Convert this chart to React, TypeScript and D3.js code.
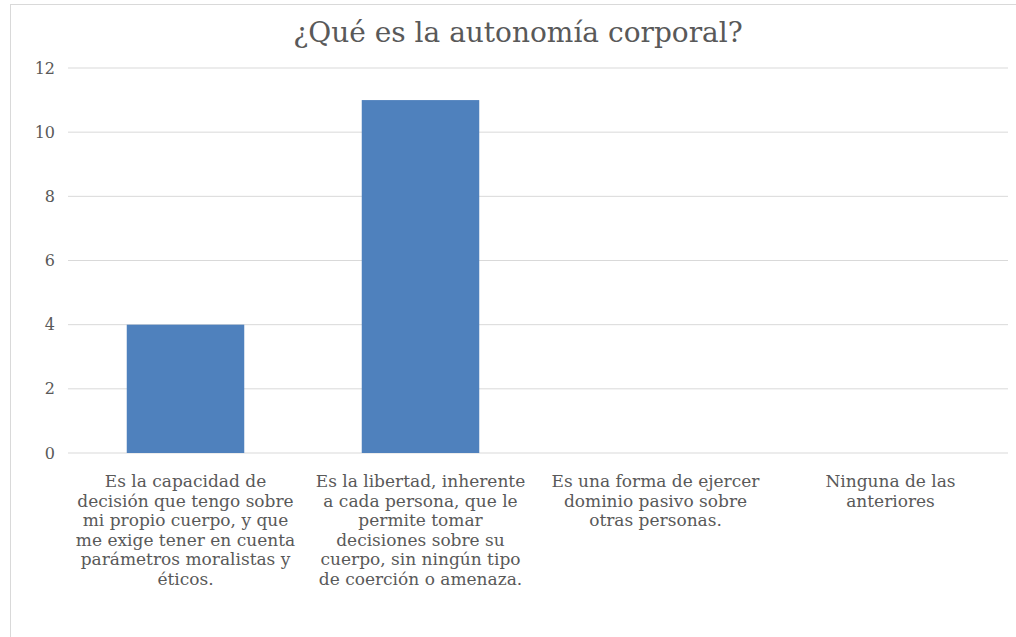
import * as d3 from "d3"

const categories = [
  "Es la capacidad de decisión que tengo sobre mi propio cuerpo, y que me exige tener en cuenta parámetros moralistas y éticos.",
  "Es la libertad, inherente a cada persona, que le permite tomar decisiones sobre su cuerpo, sin ningún tipo de coerción o amenaza.",
  "Es una forma de ejercer dominio pasivo sobre otras personas.",
  "Ninguna de las anteriores",
]
// wrapped as in the original
const categoryLines = [
  ["Es la capacidad de", "decisión que tengo sobre", "mi propio cuerpo, y que", "me exige tener en cuenta", "parámetros moralistas y", "éticos."],
  ["Es la libertad, inherente", "a cada persona, que le", "permite tomar", "decisiones sobre su", "cuerpo, sin ningún tipo", "de coerción o amenaza."],
  ["Es una forma de ejercer", "dominio pasivo sobre", "otras personas."],
  ["Ninguna de las", "anteriores"],
]
const values = [4, 11, 0, 0]
const yTicks = [0, 2, 4, 6, 8, 10, 12]
const title = "¿Qué es la autonomía corporal?"

const W = 1016
const H = 637
const margin = { left: 68, right: 8, top: 68, bottom: 184 }
const font = "'DejaVu Serif', serif"
const textColor = "#595959"

export default function App() {
  const innerW = W - margin.left - margin.right
  const innerH = H - margin.top - margin.bottom

  const x = d3.scaleBand().domain(categories).range([0, innerW]).paddingInner(0.5).paddingOuter(0.25)
  const y = d3.scaleLinear().domain([0, 12]).range([innerH, 0])

  return (
    <svg width={W} height={H} style={{ position: "absolute", left: 0, top: 0, fontFamily: font }}>
      <rect x={10.5} y={4.5} width={W} height={H} fill="#fff" stroke="#d9d9d9" />
      <text x={518} y={42} textAnchor="middle" fontSize={28} fill={textColor}>{title}</text>
      <g transform={`translate(${margin.left},${margin.top})`}>
        {yTicks.map(t => (
          <g key={t}>
            <line x1={0} x2={innerW} y1={y(t)} y2={y(t)} stroke="#d9d9d9" strokeWidth={1} />
            <text x={-13} y={y(t)} dy="0.35em" textAnchor="end" fontSize={16} fill={textColor}>{t}</text>
          </g>
        ))}
        {categories.map((c, i) => (
          <rect key={c} x={x(c)} y={y(values[i])} width={x.bandwidth()} height={innerH - y(values[i])}
            fill="#4f81bd" />
        ))}
        {categories.map((c, i) => (
          <text key={c} textAnchor="middle" fontSize={17} fill={textColor}>
            {categoryLines[i].map((l, j) => (
              <tspan key={j} x={x(c) + x.bandwidth() / 2} y={innerH + 34 + j * 19.6}>{l}</tspan>
            ))}
          </text>
        ))}
      </g>
    </svg>
  )
}
